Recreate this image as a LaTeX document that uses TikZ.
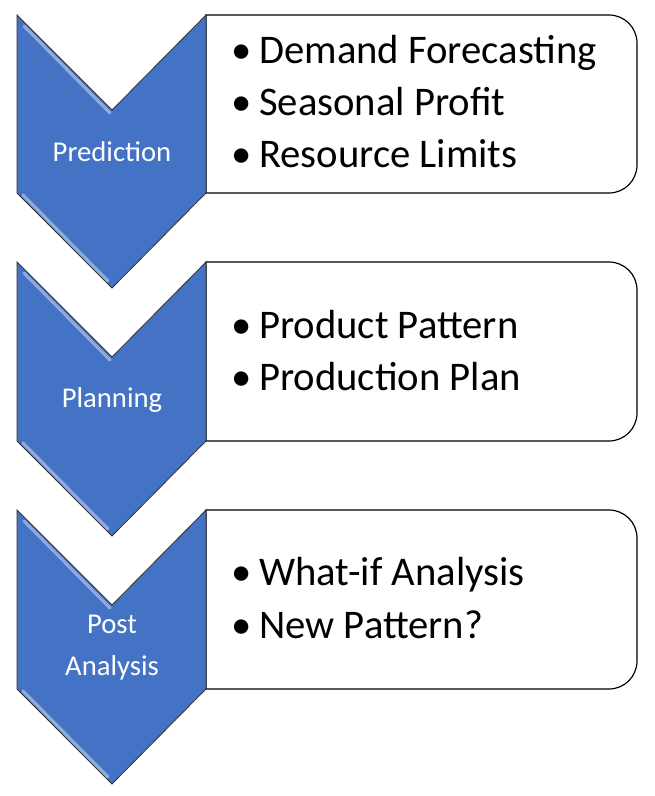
\documentclass[tikz,border=0pt]{standalone}
\usepackage{fontspec}
\setmainfont{Carlito}
\definecolor{chevblue}{HTML}{4472C4}
\definecolor{chevlight}{HTML}{8FAADC}
\begin{document}
\begin{tikzpicture}[x=0.75pt,y=-0.75pt,
  chevron/.style={fill=chevblue,draw=black!80,line width=0.6pt,line join=miter},
  highlight/.style={draw=chevlight,line width=2.4pt,line cap=round},
  infobox/.style={fill=white,draw=black,line width=0.9pt},
  chevlabel/.style={text=white,font=\fontsize{21.5}{31.5}\selectfont,align=center,inner sep=0pt},
  bulletmark/.style={font=\fontsize{30.5}{36}\selectfont,anchor=base west,inner sep=0pt},
  itemtext/.style={font=\fontsize{30.5}{36}\selectfont,anchor=base west,inner sep=0pt}]
\useasboundingbox (0,0) rectangle (654,796);
\fill[white] (0,0) rectangle (654,796);
% boxes
\foreach \t/\b in {15/193, 262/441, 510/689}{
  \draw[infobox] (206,\t) -- (609,\t) arc[start angle=-90,end angle=0,radius=28]
    -- (637,\b-28) arc[start angle=0,end angle=90,radius=28] -- (206,\b) -- cycle;
}
% chevrons
\foreach \t/\b in {15/193, 262/441, 510/689}{
  \draw[chevron] (17,\t) -- (112,\t+95) -- (206,\t) -- (206,\b) -- (112,\b+95) -- (17,\b) -- cycle;
  \draw[highlight] (24,\t+11) -- (110,\t+98);
  \draw[highlight] (23,\b+2) -- (108,\b+88);
}
% chevron labels
\node[chevlabel] (pred) at (112,152) {Prediction};
\node[chevlabel] (plan) at (112,400) {Planning};
\node[chevlabel] (post) at (112,648) {Post\\Analysis};
% items
\foreach \y/\txt/\nm in {63/Demand Forecasting/a1, 115/Seasonal Profit/a2, 167/Resource Limits/a3,
  338/Product Pattern/b1, 390/Production Plan/b2, 585/What-if Analysis/c1, 638/New Pattern?/c2}{
  \node[bulletmark] (bul\nm) at (231,\y) {•};
  \node[itemtext] (item\nm) at (259,\y) {\txt};
}
\end{tikzpicture}
\end{document}
